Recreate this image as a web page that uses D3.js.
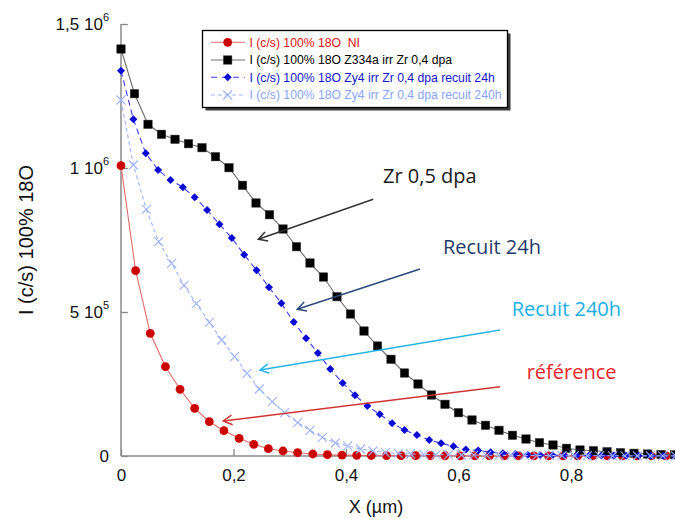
<!DOCTYPE html>
<html><head><meta charset="utf-8">
<script src="https://cdn.jsdelivr.net/npm/d3@7"></script>
<style>body{margin:0;background:#fff;} svg{display:block;background:#fff;}</style>
</head><body>
<svg id="chart" width="675" height="519"></svg>
<script>
// ---------- DATA ----------
const seriesNames = [
  "I (c/s) 100% 18O  NI",
  "I (c/s) 100% 18O Z334a irr Zr 0,4 dpa",
  "I (c/s) 100% 18O Zy4 irr Zr 0,4 dpa recuit 24h",
  "I (c/s) 100% 18O Zy4 irr Zr 0,4 dpa recuit 240h"
];
const refX = [0,0.026,0.052,0.079,0.105,0.131,0.157,0.183,0.210,0.236,0.262,0.288,0.314,0.341,0.367,0.393,0.419,0.445,0.472,0.498,0.524,0.550,0.576,0.603,0.629,0.655,0.681,0.707,0.734,0.760,0.786,0.812,0.838,0.865,0.891,0.917,0.943,0.969,0.996];
const refY = [1008000,643400,426000,310100,231600,165600,119100,87800,61500,40600,25300,17400,11500,6900,4500,3000,2200,1800,1500,1200,1000,900,800,700,600,500,500,400,400,300,300,300,200,200,200,200,200,100,100];

const irrX = [0,0.024,0.048,0.072,0.096,0.120,0.144,0.168,0.192,0.216,0.240,0.264,0.288,0.312,0.336,0.360,0.384,0.408,0.432,0.456,0.480,0.504,0.528,0.552,0.576,0.600,0.624,0.648,0.672,0.696,0.720,0.744,0.768,0.792,0.816,0.840,0.864,0.888,0.912,0.936,0.960,0.984];
const irrY = [1413200,1258000,1151700,1117000,1099700,1084400,1070500,1039200,1001000,939900,878500,837800,788200,726700,670100,621500,553100,493100,434000,381900,335800,288200,250000,211800,179500,150300,125000,106600,89200,71900,59000,46200,38200,26700,20800,18400,14900,11500,9400,6900,5200,4500];

const r24X = [0,0.022,0.044,0.066,0.088,0.110,0.131,0.153,0.175,0.197,0.219,0.241,0.263,0.285,0.307,0.329,0.350,0.372,0.394,0.416,0.438,0.460,0.482,0.504,0.526,0.548,0.569,0.591,0.613,0.635,0.657,0.679,0.701,0.723,0.745,0.767,0.788,0.810,0.832,0.854,0.876,0.898,0.920,0.942,0.964,0.986];
const r24Y = [1337800,1169100,1051000,993100,958300,933000,898300,854200,804500,756900,699000,644800,585800,530200,465300,409000,357600,302100,253500,211100,173600,144800,113500,90300,72900,55600,44100,33700,22600,19100,12800,9400,6900,4500,3500,3000,2500,2000,1800,1500,1200,1000,800,600,500,400];

const r240X = [0,0.022,0.045,0.067,0.090,0.112,0.134,0.157,0.179,0.202,0.224,0.246,0.269,0.291,0.314,0.336,0.358,0.381,0.403,0.426,0.448,0.470,0.493,0.515,0.538,0.560,0.582,0.605,0.627,0.650,0.672,0.694,0.717,0.739,0.762,0.784,0.806,0.829,0.851,0.874,0.896,0.918,0.941,0.963,0.986];
const r240Y = [1236100,1010400,856600,744100,669100,592700,528800,464200,402800,344800,287200,232600,188500,150300,115600,89200,64900,45100,35400,24300,17400,11500,9400,6900,5900,5000,4200,3500,3000,2500,2200,2000,1800,1500,1300,1100,1000,900,800,700,600,500,500,400,400];

const xTicks = [0, 0.2, 0.4, 0.6, 0.8];
const xTickLabels = ["0", "0,2", "0,4", "0,6", "0,8"];
const yTicks = [0, 5e5, 1e6, 1.5e6];
const yTickMantissa = ["0", "5 10", "1 10", "1,5 10"];
const yTickExponent = ["", "5", "6", "6"];
const xTitle = "X (µm)";
const yTitle = "I (c/s) 100% 18O";
const noteTexts = ["Zr 0,5 dpa", "Recuit 24h", "Recuit 240h", "référence"];
// annotation anchors in data units: [textX, textY, arrowStartX, arrowStartY, arrowTipX, arrowTipY]
const noteAnchors = [
  [0.4658, 947900, 0.4485, 891300, 0.2441, 752400],
  [0.5724, 701400, 0.5316, 649300, 0.3134, 509400],
  [0.6946, 486100, 0.6738, 437500, 0.2471, 298600],
  [0.7212, 267400, 0.6738, 240600, 0.1819, 121500]
];

// ---------- DRAW ----------
const svg = d3.select("#chart");
const x = d3.scaleLinear().domain([0, 0.8]).range([121, 571]);
const y = d3.scaleLinear().domain([0, 1.5e6]).range([456, 24]);
const axisColor = "#8a8a8a";
const axisFont = "'Liberation Sans', Arial, sans-serif";

// X axis
const gx = svg.append("g").attr("transform", `translate(0,${y(0)})`)
  .call(d3.axisBottom(x).tickValues(xTicks).tickSize(-7).tickPadding(13)
    .tickFormat((d, i) => xTickLabels[i]));
gx.select(".domain").remove();
gx.selectAll("line").attr("stroke", axisColor).attr("stroke-width", 1.3);
gx.selectAll("text").attr("font-family", axisFont).attr("font-size", 17).attr("fill", "#111");
svg.append("line").attr("x1", x(0)).attr("x2", 675).attr("y1", y(0)).attr("y2", y(0))
  .attr("stroke", axisColor).attr("stroke-width", 1.5);

// Y axis
const gy = svg.append("g").attr("transform", `translate(${x(0)},0)`)
  .call(d3.axisLeft(y).tickValues(yTicks).tickSize(-7).tickFormat(""));
gy.select(".domain").remove();
gy.selectAll("line").attr("stroke", axisColor).attr("stroke-width", 1.3);
svg.append("line").attr("x1", x(0)).attr("x2", x(0)).attr("y1", y(0)).attr("y2", y(1.5e6))
  .attr("stroke", axisColor).attr("stroke-width", 1.5);
yTicks.forEach((v, i) => {
  const t = svg.append("text").attr("x", 109).attr("y", y(v) + 6)
    .attr("text-anchor", "end").attr("font-family", axisFont).attr("font-size", 17).attr("fill", "#111");
  t.append("tspan").text(yTickMantissa[i]);
  if (yTickExponent[i]) t.append("tspan").attr("font-size", 11).attr("dy", -9).text(yTickExponent[i]);
});

// Titles
svg.append("text").attr("x", 376).attr("y", 513).attr("text-anchor", "middle")
  .attr("font-family", axisFont).attr("font-size", 18).attr("fill", "#111").text(xTitle);
svg.append("text").attr("transform", "translate(33,240) rotate(-90)").attr("text-anchor", "middle")
  .attr("font-family", axisFont).attr("font-size", 20).attr("fill", "#111").text(yTitle);

// Series
const series = [
  {xs: refX, ys: refY, line: "#e06a6a", dash: null, marker: "circle", color: "#cc0000", text: "#dd1111"},
  {xs: irrX, ys: irrY, line: "#6e6e6e", dash: null, marker: "square", color: "#000000", text: "#000000"},
  {xs: r24X, ys: r24Y, line: "#3a3aff", dash: "6,4", marker: "diamond", color: "#0a0ad2", text: "#1414cc"},
  {xs: r240X, ys: r240Y, line: "#9fb3ff", dash: "4,3", marker: "cross", color: "#9fb3ff", text: "#8aa5ff"}
];
const lineGen = d3.line().x(d => x(d[0])).y(d => y(d[1]));

function drawMarker(g, type, color, cx, cy) {
  if (type === "circle") {
    g.append("circle").attr("cx", cx).attr("cy", cy).attr("r", 4.4).attr("fill", color);
  } else if (type === "square") {
    g.append("rect").attr("x", cx - 4.2).attr("y", cy - 4.2).attr("width", 8.4).attr("height", 8.4)
      .attr("fill", color).attr("stroke", "#333").attr("stroke-width", 0.5);
  } else if (type === "diamond") {
    g.append("path").attr("d", d3.symbol(d3.symbolSquare, 32)())
      .attr("transform", `translate(${cx},${cy}) rotate(45)`).attr("fill", color);
  } else {
    g.append("path").attr("d", "M-4.5,-4.5L4.5,4.5M-4.5,4.5L4.5,-4.5")
      .attr("transform", `translate(${cx},${cy})`).attr("stroke", color).attr("stroke-width", 1.1).attr("fill", "none");
  }
}

series.forEach(s => {
  const pts = s.xs.map((xv, i) => [xv, s.ys[i]]);
  const g = svg.append("g");
  g.append("path").attr("d", lineGen(pts)).attr("fill", "none").attr("stroke", s.line)
    .attr("stroke-width", 1.1).attr("stroke-dasharray", s.dash);
  pts.forEach(p => drawMarker(g, s.marker, s.color, x(p[0]), y(p[1])));
});

// Legend
const lg = svg.append("g");
lg.append("rect").attr("x", 205.5).attr("y", 33.5).attr("width", 305).attr("height", 77).attr("fill", "#3a3a3a");
lg.append("rect").attr("x", 202.5).attr("y", 30.5).attr("width", 305).attr("height", 77)
  .attr("fill", "#fff").attr("stroke", "#000").attr("stroke-width", 1.3);
const rowY = [42.3, 60, 77.3, 95];
series.forEach((s, i) => {
  lg.append("line").attr("x1", 211).attr("x2", 245).attr("y1", rowY[i]).attr("y2", rowY[i])
    .attr("stroke", s.line).attr("stroke-width", 1.1).attr("stroke-dasharray", s.dash ? (i === 2 ? "6,5" : "4,3") : null);
  drawMarker(lg, s.marker, s.color, 227.7, rowY[i]);
  lg.append("text").attr("x", 249.5).attr("y", rowY[i] + 4.3).attr("font-family", axisFont)
    .attr("font-size", 12.2).attr("fill", s.text).attr("xml:space", "preserve")
    .style("white-space", "pre").text(seriesNames[i]);
});

// Annotations
const noteColors = ["#1a1a1a", "#1f3a68", "#1aaeea", "#e3262b"];
const arrowColors = ["#333333", "#2c4a7c", "#2ab4ee", "#d03535"];
noteAnchors.forEach((a, i) => {
  svg.append("text").attr("x", x(a[0])).attr("y", y(a[1])).attr("font-family", "'Open Sans', sans-serif")
    .attr("font-size", 20).attr("fill", noteColors[i]).text(noteTexts[i]);
  const x1 = x(a[2]), y1 = y(a[3]), x2 = x(a[4]), y2 = y(a[5]);
  svg.append("line").attr("x1", x1).attr("y1", y1).attr("x2", x2).attr("y2", y2)
    .attr("stroke", arrowColors[i]).attr("stroke-width", 1.5);
  const ang = Math.atan2(y1 - y2, x1 - x2), L = 10, sp = 0.5;
  svg.append("path").attr("d",
      `M${x2 + L * Math.cos(ang + sp)},${y2 + L * Math.sin(ang + sp)}L${x2},${y2}L${x2 + L * Math.cos(ang - sp)},${y2 + L * Math.sin(ang - sp)}`)
    .attr("fill", "none").attr("stroke", arrowColors[i]).attr("stroke-width", 1.5);
});
</script>
</body></html>
